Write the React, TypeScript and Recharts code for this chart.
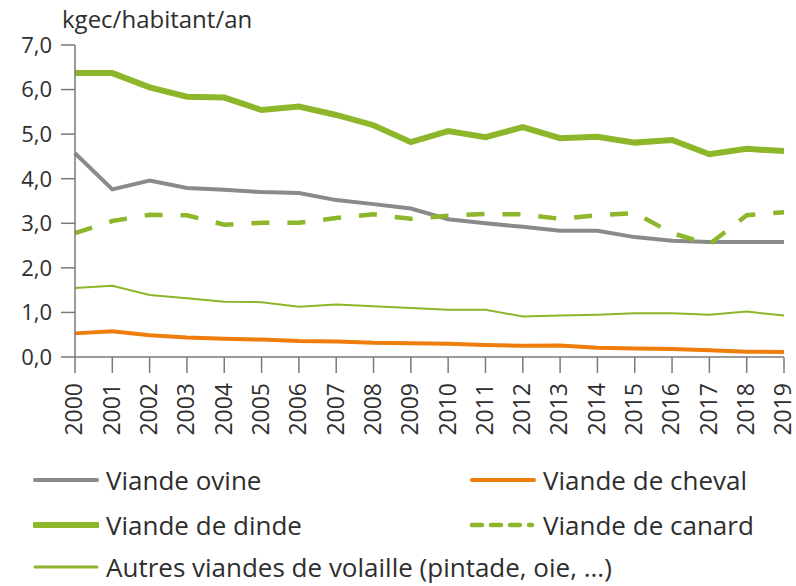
import { LineChart, Line, XAxis, YAxis } from 'recharts';

const years = ['2000', '2001', '2002', '2003', '2004', '2005', '2006', '2007', '2008', '2009', '2010', '2011', '2012', '2013', '2014', '2015', '2016', '2017', '2018', '2019'];
const ovine = [4.57, 3.76, 3.96, 3.79, 3.75, 3.7, 3.68, 3.52, 3.43, 3.33, 3.09, 3.0, 2.92, 2.83, 2.83, 2.69, 2.61, 2.58, 2.58, 2.58];
const cheval = [0.53, 0.58, 0.49, 0.44, 0.41, 0.39, 0.36, 0.35, 0.32, 0.31, 0.3, 0.27, 0.25, 0.26, 0.21, 0.19, 0.18, 0.15, 0.12, 0.11];
const dinde = [6.37, 6.37, 6.05, 5.84, 5.82, 5.54, 5.62, 5.43, 5.2, 4.82, 5.07, 4.93, 5.16, 4.91, 4.94, 4.81, 4.87, 4.55, 4.67, 4.62];
const canard = [2.78, 3.05, 3.19, 3.18, 2.97, 3.01, 3.01, 3.12, 3.2, 3.1, 3.17, 3.21, 3.2, 3.1, 3.18, 3.23, 2.78, 2.53, 3.18, 3.25];
const autres = [1.55, 1.6, 1.39, 1.32, 1.24, 1.23, 1.13, 1.18, 1.14, 1.1, 1.06, 1.06, 0.91, 0.93, 0.95, 0.98, 0.98, 0.95, 1.02, 0.93];
const yTicks = [0, 1, 2, 3, 4, 5, 6, 7];
const unit = 'kgec/habitant/an';

const GREEN = '#8DB62B';
const GRAY = '#8A8A8A';
const ORANGE = '#EE7D0C';
const AXIS = '#7A7A7A';
const TEXT = '#2E2E2E';

const series = [
  { key: 'ovine', name: 'Viande ovine', color: GRAY, width: 4, dash: undefined as string | undefined, values: ovine },
  { key: 'cheval', name: 'Viande de cheval', color: ORANGE, width: 4, dash: undefined, values: cheval },
  { key: 'dinde', name: 'Viande de dinde', color: GREEN, width: 6, dash: undefined, values: dinde },
  { key: 'canard', name: 'Viande de canard', color: GREEN, width: 4.5, dash: '18 18', values: canard },
  { key: 'autres', name: 'Autres viandes de volaille (pintade, oie, ...)', color: GREEN, width: 2, dash: undefined, values: autres },
];

const data = years.map((year, i) => {
  const row: Record<string, string | number> = { year };
  series.forEach((s) => (row[s.key] = s.values[i]));
  return row;
});

const fmt = (v: number) => v.toFixed(1).replace('.', ',');

function YearTick({ x, y, payload }: any) {
  return (
    <text x={x} y={y} transform={`rotate(-90 ${x} ${y})`} textAnchor="end" dy="0.32em" fontSize={23} fill={TEXT}>
      {payload.value}
    </text>
  );
}

// legend placed like the original: two columns, last item alone on its row
const legendSlots = [
  { left: 33, top: 465 },
  { left: 470, top: 465 },
  { left: 33, top: 510 },
  { left: 470, top: 510 },
  { left: 33, top: 552 },
];

function LegendIcon({ color, width, dash }: { color: string; width: number; dash?: string }) {
  return (
    <svg width={66} height={14} style={{ position: 'absolute', left: 0, top: 8 }}>
      <line x1={2} y1={7} x2={dash ? 62 : 64} y2={7} stroke={color} strokeWidth={Math.max(width, 3)} strokeDasharray={dash ? '10 9' : undefined} strokeLinecap="round" />
    </svg>
  );
}

export default function App() {
  return (
    <div style={{ position: 'absolute', left: 0, top: 0, width: 796, height: 586, background: '#fff', fontFamily: 'Open Sans', color: TEXT, overflow: 'hidden' }}>
      <LineChart width={796} height={445} data={data} margin={{ top: 45, right: 12, left: 8, bottom: 0 }} style={{ fontFamily: 'Open Sans', overflow: 'visible' }}>
        <XAxis
          dataKey="year"
          interval={0}
          height={88}
          padding={{ left: 0, right: 0 }}
          tick={<YearTick />}
          tickSize={16}
          tickMargin={10}
          stroke={AXIS}
          strokeWidth={1.5}
        />
        <YAxis
          domain={[0, 7]}
          ticks={yTicks}
          tickFormatter={fmt}
          width={67}
          tickSize={14}
          tickMargin={9}
          stroke={AXIS}
          strokeWidth={1.5}
          tick={{ fontSize: 22, fill: TEXT }}
          label={{
            value: unit,
            content: () => (
              <text x={62} y={28} fontSize={24} fill={TEXT} textAnchor="start">
                {unit}
              </text>
            ),
          }}
        />
        {series.map((s) => (
          <Line
            key={s.key}
            dataKey={s.key}
            name={s.name}
            type="linear"
            stroke={s.color}
            strokeWidth={s.width}
            strokeDasharray={s.dash}
            dot={false}
            activeDot={false}
            isAnimationActive={false}
          />
        ))}
      </LineChart>
      {series.map((s, i) => (
        <div key={s.key} style={{ position: 'absolute', left: legendSlots[i].left, top: legendSlots[i].top, height: 30, whiteSpace: 'nowrap' }}>
          <LegendIcon color={s.color} width={s.width} dash={s.dash} />
          <span style={{ position: 'absolute', left: 73, top: 0, fontSize: 26, lineHeight: '30px' }}>{s.name}</span>
        </div>
      ))}
    </div>
  );
}
